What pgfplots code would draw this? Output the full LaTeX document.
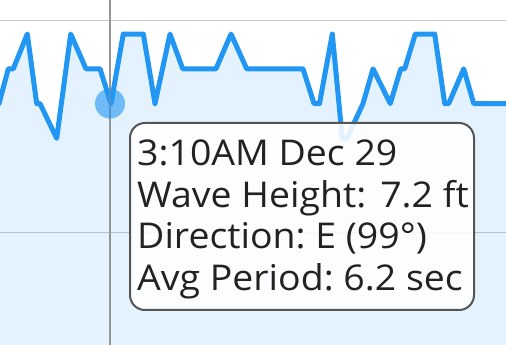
\documentclass[border=0pt]{standalone}
\usepackage{pgfplots}
\pgfplotsset{compat=1.18}
\usepackage{fontspec}
\setmainfont[FakeStretch=1.055]{Open Sans}
\definecolor{wline}{RGB}{33,150,243}
\definecolor{gridc}{RGB}{200,200,200}
\definecolor{vline}{RGB}{150,150,150}
\definecolor{boxc}{RGB}{85,85,85}
\definecolor{txt}{RGB}{34,34,34}
\begin{document}
\frenchspacing
\begin{tikzpicture}
\begin{axis}[
  at={(0,0)}, anchor=south west,
  scale only axis, width=506bp, height=345bp,
  xmin=0, xmax=506, ymin=4.941, ymax=8.195,
  axis line style={draw=none},
  xtick=\empty, ytick={6,8}, yticklabels={},
  major tick length=0pt,
  ymajorgrids, grid style={gridc, line width=1.5bp},
  clip=true,
]
\addplot[draw=none, fill=wline, fill opacity=0.12] coordinates {
(-1,7.218) (8.3,7.546) (13.3,7.546) (27.3,7.874) (36.7,7.218) (40,7.218)
(56.7,6.890) (70.7,7.874) (86,7.546) (100,7.546) (111,7.218) (123.3,7.874)
(143.3,7.874) (155,7.218) (170,7.874) (182.7,7.546) (216,7.546) (231,7.874)
(246.7,7.546) (303,7.546) (314,7.218) (319.5,7.218) (332.3,7.874) (342.3,6.890)
(347,6.890) (363,7.218) (373,7.546) (390.3,7.218) (400.7,7.546) (404.7,7.546)
(415.3,7.874) (434.7,7.874) (444.7,7.218) (448.7,7.218) (463.7,7.546) (473.7,7.218)
(508,7.218) (508,4.9) (-1,4.9)} \closedcycle;
\addplot[wline, line width=5bp, line join=round, line cap=round] coordinates {
(-1,7.218) (8.3,7.546) (13.3,7.546) (27.3,7.874) (36.7,7.218) (40,7.218)
(56.7,6.890) (70.7,7.874) (86,7.546) (100,7.546) (111,7.218) (123.3,7.874)
(143.3,7.874) (155,7.218) (170,7.874) (182.7,7.546) (216,7.546) (231,7.874)
(246.7,7.546) (303,7.546) (314,7.218) (319.5,7.218) (332.3,7.874) (342.3,6.890)
(347,6.890) (363,7.218) (373,7.546) (390.3,7.218) (400.7,7.546) (404.7,7.546)
(415.3,7.874) (434.7,7.874) (444.7,7.218) (448.7,7.218) (463.7,7.546) (473.7,7.218)
(508,7.218)};
\addplot[only marks, mark=*, mark size=15bp, mark options={draw opacity=0, line width=0pt, fill=wline, fill opacity=0.6}] coordinates {(110,7.218)};
\addplot[vline, line width=2.5bp] coordinates {(110,4.9) (110,8.3)};
\end{axis}
\draw[boxc, line width=2bp, fill=white, fill opacity=0.88, rounded corners=15bp] (130bp,35bp) rectangle (474bp,222bp);
\begin{scope}[every node/.style={anchor=base west, inner sep=0pt, text=txt, font=\fontsize{35.5bp}{41.5bp}\selectfont}]
\node at (137bp,179bp) {3:10AM Dec 29};
\node at (137bp,137.7bp) {Wave Height:\hspace{14bp}7.2 ft};
\node at (137bp,96.3bp) {Direction: E (99°)};
\node at (137bp,54.7bp) {Avg Period: 6.2 sec};
\end{scope}
\pgfresetboundingbox
\path (0,0) rectangle (506bp,345bp);
\end{tikzpicture}
\end{document}
